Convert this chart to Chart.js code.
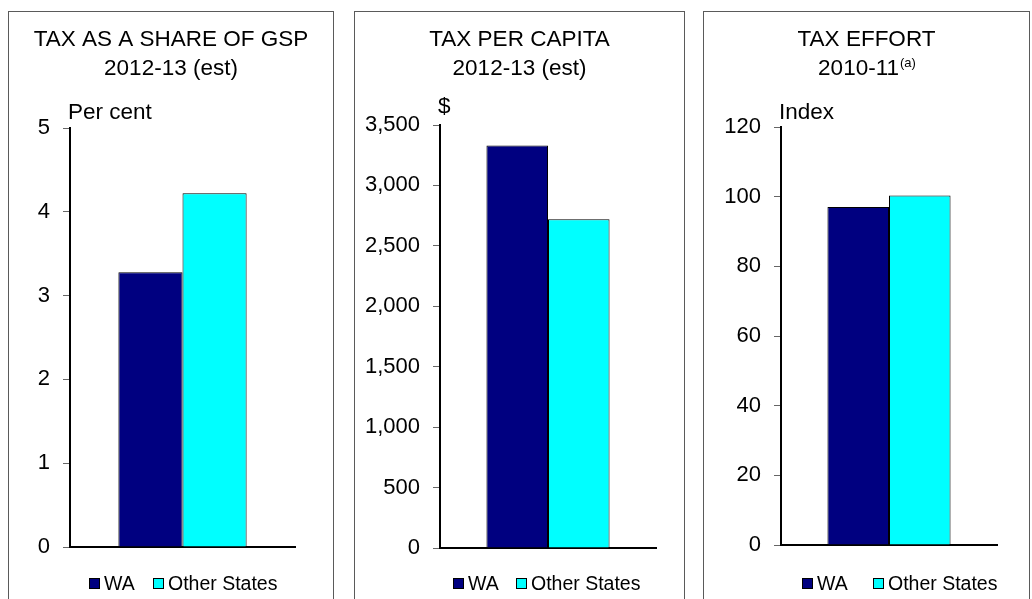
<!DOCTYPE html>
<html><head><meta charset="utf-8">
<script src="https://cdn.jsdelivr.net/npm/chart.js@4/dist/chart.umd.min.js"></script>
<style>
html,body{margin:0;padding:0;background:#fff;overflow:hidden;width:1032px;height:599px;}
.panel{position:absolute;top:11px;height:640px;border:1px solid #5a5a5a;box-sizing:border-box;}
.panel canvas{position:absolute;left:0;top:0;}
</style></head><body>
<div class="panel" style="left:8px;width:326px"><canvas id="c1" width="324" height="587"></canvas></div>
<div class="panel" style="left:354px;width:331px"><canvas id="c2" width="329" height="587"></canvas></div>
<div class="panel" style="left:703px;width:327px"><canvas id="c3" width="325" height="587"></canvas></div>
<script>
// ---- data ----
const categories = [''];
const seriesNames = ['WA', 'Other States'];
const seriesColors = ['#000080', '#00FFFF'];
const taxShareGSP = [3.28, 4.22];       // per cent, 2012-13 (est)
const taxPerCapita = [3330, 2720];      // $, 2012-13 (est)
const taxEffort = [97, 100.3];          // index, 2010-11
const panelTitles = [['TAX AS A SHARE OF GSP', '2012-13 (est)', ''], ['TAX PER CAPITA', '2012-13 (est)', ''], ['TAX EFFORT', '2010-11', '(a)']];
const axisTitles = ['Per cent', '$', 'Index'];
const axisMax = [5, 3500, 120];
const axisStep = [1, 500, 20];

const FONT = '"Liberation Sans", Arial, sans-serif';

const annot = {
  id: 'annot',
  afterDraw(chart, args, o) {
    const ctx = chart.ctx, ca = chart.chartArea, W = chart.width;
    ctx.save();
    ctx.fillStyle = '#000';
    ctx.textBaseline = 'alphabetic';
    ctx.font = '22.5px ' + FONT;
    ctx.textAlign = 'center';
    ctx.fillText(o.t[0], W / 2, 34);
    // line 2 (with optional superscript)
    ctx.textAlign = 'left';
    const w1 = ctx.measureText(o.t[1]).width;
    ctx.font = '13px ' + FONT;
    const w2 = o.t[2] ? ctx.measureText(o.t[2]).width : 0;
    const x0 = W / 2 - (w1 + w2) / 2;
    ctx.font = '22.5px ' + FONT;
    ctx.fillText(o.t[1], x0, 63);
    if (o.t[2]) { ctx.font = '13px ' + FONT; ctx.fillText(o.t[2], x0 + w1 + 1, 55); }
    // axis title
    ctx.font = '22.5px ' + FONT;
    ctx.fillText(o.axisTitle, ca.left - 2, ca.top - o.atDy);
    // legend
    ctx.font = '19.5px ' + FONT;
    chart.data.datasets.forEach((ds, i) => {
      const x = o.legX[i];
      ctx.fillStyle = ds.backgroundColor;
      ctx.fillRect(x, 566, 11, 11);
      ctx.strokeStyle = '#000'; ctx.lineWidth = 1;
      ctx.strokeRect(x + 0.5, 566.5, 10, 10);
      ctx.fillStyle = '#000';
      ctx.fillText(ds.label, x + 15, 578);
    });
    ctx.restore();
  }
};

function makePanel(id, idx, values, lay) {
  new Chart(document.getElementById(id), {
    type: 'bar',
    plugins: [annot],
    data: {
      labels: categories,
      datasets: seriesNames.map((n, i) => ({
        label: n, data: [values[i]], backgroundColor: seriesColors[i],
        borderColor: '#000', borderWidth: 1,
        categoryPercentage: 0.57, barPercentage: 1.0
      }))
    },
    options: {
      responsive: false, animation: false, devicePixelRatio: 1,
      layout: { padding: { top: lay.top, left: 0, right: lay.right, bottom: lay.bottom } },
      plugins: {
        legend: { display: false }, title: { display: false }, tooltip: { enabled: false },
        annot: { t: panelTitles[idx], axisTitle: axisTitles[idx], atDy: lay.atDy, legX: lay.legX }
      },
      scales: {
        x: {
          grid: { display: false }, ticks: { display: false },
          border: { display: true, color: '#000', width: 2 },
          afterFit(s) { s.height = 0; }
        },
        y: {
          min: 0, max: axisMax[idx],
          ticks: { stepSize: axisStep[idx], color: '#000', padding: lay.pad, font: { family: FONT, size: 22 },
                   callback: v => v.toLocaleString('en-US') },
          grid: { drawOnChartArea: false, drawTicks: true, tickLength: 7, color: '#666' },
          border: { display: true, color: '#000', width: 2 },
          afterFit(s) { s.width = lay.left; }
        }
      }
    }
  });
}

makePanel('c1', 0, taxShareGSP, { top: 116, left: 61, right: 38, bottom: 52, pad: 13, atDy: 9, legX: [80, 144] });
makePanel('c2', 1, taxPerCapita, { top: 113, left: 85, right: 28, bottom: 51, pad: 13, atDy: 12, legX: [98, 161] });
makePanel('c3', 2, taxEffort, { top: 115, left: 77, right: 32, bottom: 54, pad: 13, atDy: 8, legX: [98, 169] });
</script>
</body></html>
